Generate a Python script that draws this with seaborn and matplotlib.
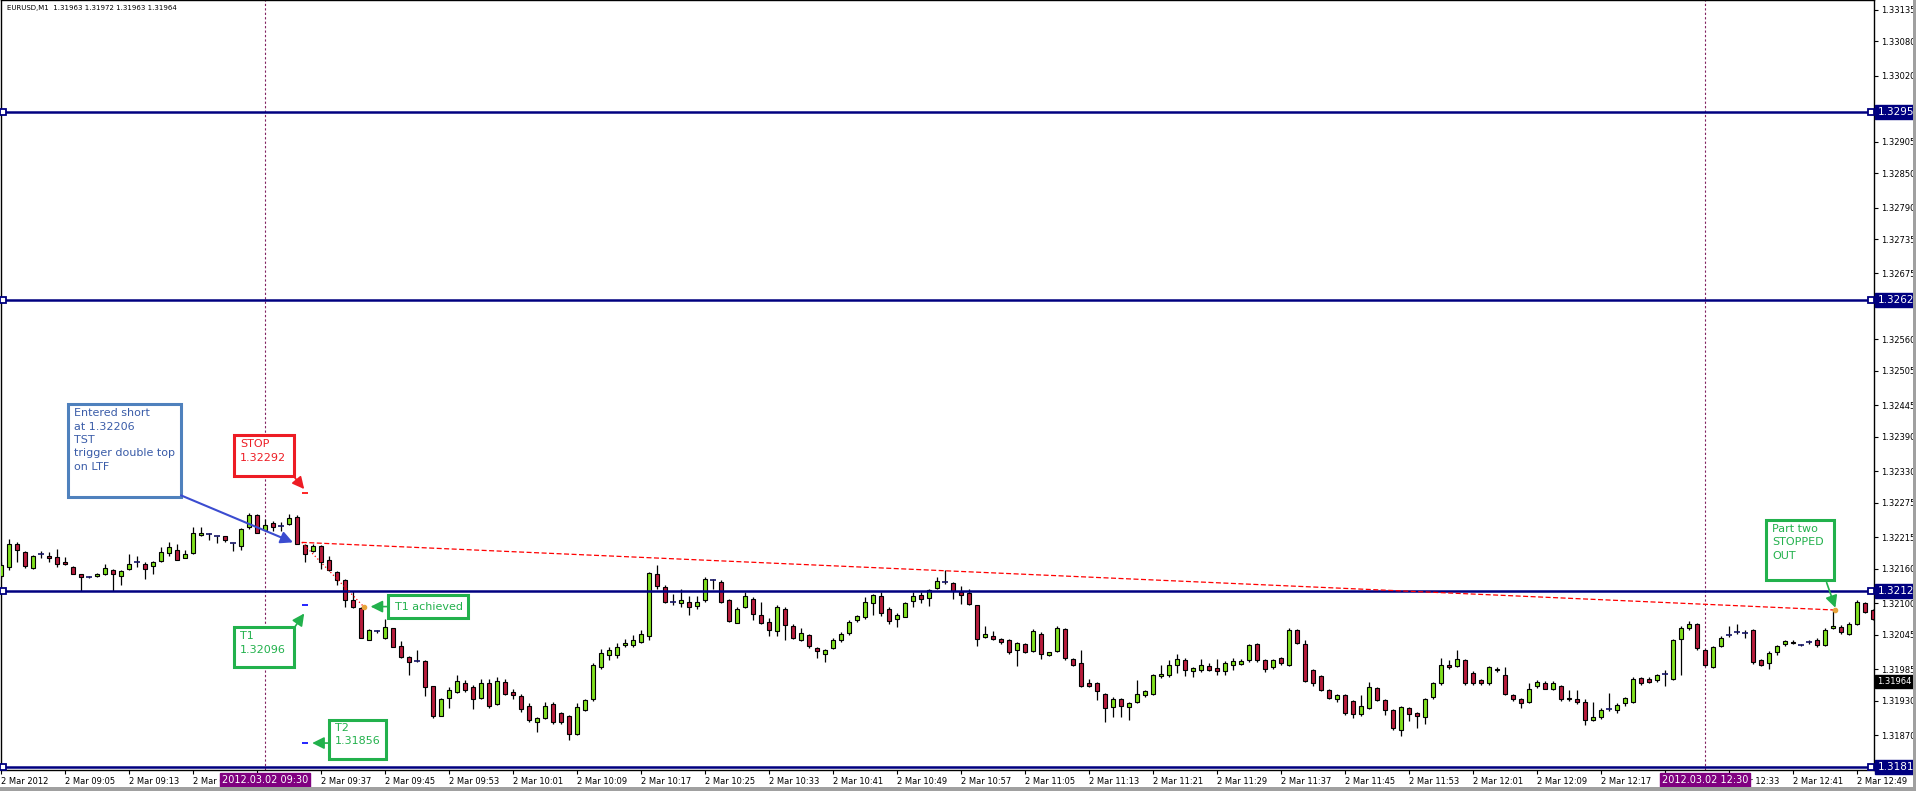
import numpy as np
import pandas as pd
import seaborn as sns
import matplotlib
matplotlib.use("Agg")
import matplotlib.pyplot as plt
import matplotlib.transforms as mtransforms
from matplotlib.patches import Rectangle

# EURUSD M1 candles, 2 Mar 2012 from 08:57, one per minute
opens = [
    1.32148, 1.32163, 1.32204, 1.32189, 1.32162, 1.32185, 1.32182, 1.32181, 1.32172, 1.32163,
    1.32150, 1.32146, 1.32147, 1.32150, 1.32158, 1.32147, 1.32160, 1.32172, 1.32169, 1.32164,
    1.32173, 1.32188, 1.32193, 1.32179, 1.32188, 1.32219, 1.32221, 1.32217, 1.32217, 1.32205,
    1.32200, 1.32232, 1.32253, 1.32228, 1.32240, 1.32235, 1.32238, 1.32251, 1.32201, 1.32191,
    1.32200, 1.32176, 1.32154, 1.32141, 1.32106, 1.32091, 1.32036, 1.32051, 1.32040, 1.32056,
    1.32025, 1.32006, 1.31999, 1.31999, 1.31955, 1.31904, 1.31935, 1.31945, 1.31961, 1.31954,
    1.31935, 1.31960, 1.31924, 1.31963, 1.31945, 1.31938, 1.31920, 1.31893, 1.31900, 1.31924,
    1.31908, 1.31903, 1.31872, 1.31914, 1.31932, 1.31989, 1.32009, 1.32009, 1.32027, 1.32027,
    1.32032, 1.32042, 1.32151, 1.32129, 1.32102, 1.32100, 1.32102, 1.32095, 1.32106, 1.32140,
    1.32137, 1.32106, 1.32066, 1.32093, 1.32108, 1.32080, 1.32068, 1.32051, 1.32090, 1.32060,
    1.32036, 1.32044, 1.32022, 1.32012, 1.32021, 1.32036, 1.32048, 1.32071, 1.32076, 1.32100,
    1.32112, 1.32090, 1.32073, 1.32076, 1.32103, 1.32115, 1.32109, 1.32127, 1.32137, 1.32135,
    1.32120, 1.32117, 1.32096, 1.32041, 1.32042, 1.32037, 1.32035, 1.32018, 1.32028, 1.32017,
    1.32047, 1.32009, 1.32016, 1.32055, 1.32003, 1.31996, 1.31960, 1.31960, 1.31942, 1.31919,
    1.31932, 1.31919, 1.31928, 1.31939, 1.31942, 1.31973, 1.31974, 1.31992, 1.32000, 1.31981,
    1.31984, 1.31990, 1.31987, 1.31981, 1.31993, 1.31994, 1.32000, 1.32028, 1.32000, 1.31988,
    1.32004, 1.31993, 1.32053, 1.32029, 1.31984, 1.31973, 1.31948, 1.31932, 1.31939, 1.31929,
    1.31906, 1.31918, 1.31952, 1.31931, 1.31913, 1.31879, 1.31917, 1.31908, 1.31901, 1.31936,
    1.31960, 1.31992, 1.31991, 1.32000, 1.31979, 1.31966, 1.31960, 1.31986, 1.31975, 1.31939,
    1.31932, 1.31928, 1.31955, 1.31960, 1.31951, 1.31955, 1.31934, 1.31932, 1.31928, 1.31897,
    1.31901, 1.31916, 1.31913, 1.31925, 1.31928, 1.31970, 1.31968, 1.31966, 1.31976, 1.31968,
    1.32037, 1.32056, 1.32064, 1.32018, 1.31989, 1.32026, 1.32044, 1.32049, 1.32048, 1.32053,
    1.32000, 1.31995, 1.32015, 1.32028, 1.32033, 1.32027, 1.32032, 1.32035, 1.32027, 1.32056,
    1.32059, 1.32047, 1.32064, 1.32100, 1.32088,
]
highs = [
    1.32172, 1.32212, 1.32207, 1.32191, 1.32184, 1.32191, 1.32189, 1.32195, 1.32181, 1.32165,
    1.32151, 1.32148, 1.32152, 1.32169, 1.32160, 1.32157, 1.32185, 1.32183, 1.32171, 1.32174,
    1.32198, 1.32207, 1.32203, 1.32193, 1.32233, 1.32232, 1.32223, 1.32217, 1.32218, 1.32205,
    1.32231, 1.32257, 1.32255, 1.32247, 1.32244, 1.32242, 1.32255, 1.32253, 1.32203, 1.32203,
    1.32202, 1.32183, 1.32156, 1.32143, 1.32122, 1.32093, 1.32055, 1.32054, 1.32073, 1.32057,
    1.32034, 1.32007, 1.32018, 1.32000, 1.31956, 1.31934, 1.31954, 1.31974, 1.31966, 1.31957,
    1.31968, 1.31967, 1.31971, 1.31968, 1.31951, 1.31942, 1.31925, 1.31901, 1.31927, 1.31928,
    1.31910, 1.31905, 1.31925, 1.31933, 1.31995, 1.32020, 1.32024, 1.32030, 1.32038, 1.32044,
    1.32054, 1.32154, 1.32167, 1.32131, 1.32116, 1.32125, 1.32112, 1.32112, 1.32145, 1.32142,
    1.32140, 1.32108, 1.32094, 1.32119, 1.32110, 1.32102, 1.32074, 1.32096, 1.32094, 1.32063,
    1.32057, 1.32046, 1.32024, 1.32020, 1.32040, 1.32050, 1.32070, 1.32080, 1.32110, 1.32116,
    1.32119, 1.32094, 1.32082, 1.32102, 1.32119, 1.32119, 1.32125, 1.32145, 1.32157, 1.32137,
    1.32130, 1.32125, 1.32097, 1.32061, 1.32051, 1.32040, 1.32038, 1.32033, 1.32030, 1.32055,
    1.32049, 1.32015, 1.32060, 1.32057, 1.32004, 1.32019, 1.31968, 1.31962, 1.31944, 1.31937,
    1.31934, 1.31927, 1.31966, 1.31949, 1.31976, 1.31993, 1.32001, 1.32011, 1.32004, 1.31989,
    1.32003, 1.31996, 1.32003, 1.31999, 1.32004, 1.32002, 1.32029, 1.32030, 1.32002, 1.32003,
    1.32006, 1.32056, 1.32055, 1.32035, 1.31986, 1.31975, 1.31950, 1.31942, 1.31941, 1.31931,
    1.31940, 1.31962, 1.31954, 1.31933, 1.31915, 1.31921, 1.31919, 1.31910, 1.31935, 1.31963,
    1.32005, 1.32000, 1.32019, 1.32002, 1.31981, 1.31968, 1.31990, 1.31988, 1.31988, 1.31942,
    1.31935, 1.31960, 1.31966, 1.31965, 1.31964, 1.31958, 1.31948, 1.31948, 1.31933, 1.31928,
    1.31918, 1.31943, 1.31925, 1.31937, 1.31972, 1.31972, 1.31972, 1.31977, 1.31983, 1.32037,
    1.32060, 1.32069, 1.32066, 1.32020, 1.32025, 1.32043, 1.32061, 1.32064, 1.32054, 1.32055,
    1.32002, 1.32016, 1.32027, 1.32036, 1.32035, 1.32028, 1.32036, 1.32040, 1.32056, 1.32088,
    1.32062, 1.32067, 1.32105, 1.32102, 1.32090,
]
lows = [
    1.32144, 1.32157, 1.32172, 1.32162, 1.32160, 1.32179, 1.32172, 1.32163, 1.32167, 1.32150,
    1.32122, 1.32144, 1.32146, 1.32149, 1.32122, 1.32131, 1.32158, 1.32163, 1.32142, 1.32151,
    1.32171, 1.32183, 1.32175, 1.32178, 1.32186, 1.32218, 1.32210, 1.32205, 1.32207, 1.32191,
    1.32192, 1.32230, 1.32222, 1.32226, 1.32226, 1.32226, 1.32236, 1.32203, 1.32172, 1.32189,
    1.32160, 1.32156, 1.32131, 1.32093, 1.32092, 1.32039, 1.32035, 1.32048, 1.32038, 1.32023,
    1.32005, 1.31975, 1.31998, 1.31938, 1.31900, 1.31903, 1.31917, 1.31943, 1.31945, 1.31916,
    1.31933, 1.31917, 1.31922, 1.31940, 1.31933, 1.31910, 1.31893, 1.31875, 1.31898, 1.31890,
    1.31890, 1.31861, 1.31870, 1.31912, 1.31930, 1.31985, 1.32000, 1.32004, 1.32023, 1.32023,
    1.32030, 1.32036, 1.32125, 1.32100, 1.32097, 1.32093, 1.32080, 1.32090, 1.32102, 1.32125,
    1.32100, 1.32068, 1.32065, 1.32091, 1.32070, 1.32064, 1.32042, 1.32042, 1.32036, 1.32037,
    1.32034, 1.32022, 1.32005, 1.31997, 1.32020, 1.32033, 1.32045, 1.32068, 1.32073, 1.32080,
    1.32078, 1.32064, 1.32058, 1.32075, 1.32093, 1.32100, 1.32095, 1.32125, 1.32133, 1.32108,
    1.32098, 1.32097, 1.32025, 1.32040, 1.32035, 1.32028, 1.32012, 1.31990, 1.32013, 1.32015,
    1.32002, 1.32008, 1.32014, 1.32000, 1.31990, 1.31954, 1.31953, 1.31931, 1.31893, 1.31901,
    1.31901, 1.31897, 1.31926, 1.31937, 1.31940, 1.31970, 1.31972, 1.31978, 1.31973, 1.31972,
    1.31980, 1.31982, 1.31975, 1.31975, 1.31983, 1.31992, 1.31998, 1.31998, 1.31980, 1.31985,
    1.31993, 1.31991, 1.32029, 1.31963, 1.31955, 1.31947, 1.31932, 1.31928, 1.31905, 1.31899,
    1.31904, 1.31916, 1.31929, 1.31905, 1.31878, 1.31868, 1.31895, 1.31883, 1.31890, 1.31933,
    1.31957, 1.31985, 1.31988, 1.31958, 1.31958, 1.31958, 1.31958, 1.31980, 1.31940, 1.31930,
    1.31918, 1.31925, 1.31952, 1.31950, 1.31948, 1.31930, 1.31930, 1.31924, 1.31888, 1.31895,
    1.31898, 1.31912, 1.31908, 1.31920, 1.31925, 1.31958, 1.31960, 1.31963, 1.31955, 1.31966,
    1.31975, 1.32054, 1.32019, 1.31990, 1.31987, 1.32024, 1.32041, 1.32047, 1.32040, 1.31994,
    1.31990, 1.31986, 1.32009, 1.32025, 1.32028, 1.32026, 1.32028, 1.32024, 1.32025, 1.32055,
    1.32047, 1.32045, 1.32062, 1.32083, 1.32070,
]
closes = [
    1.32166, 1.32203, 1.32192, 1.32164, 1.32182, 1.32185, 1.32178, 1.32169, 1.32168, 1.32151,
    1.32146, 1.32146, 1.32151, 1.32162, 1.32150, 1.32156, 1.32169, 1.32172, 1.32160, 1.32172,
    1.32189, 1.32198, 1.32176, 1.32185, 1.32222, 1.32223, 1.32221, 1.32217, 1.32210, 1.32205,
    1.32230, 1.32253, 1.32223, 1.32237, 1.32232, 1.32235, 1.32249, 1.32204, 1.32186, 1.32199,
    1.32172, 1.32158, 1.32141, 1.32105, 1.32093, 1.32040, 1.32054, 1.32051, 1.32059, 1.32024,
    1.32006, 1.31998, 1.31999, 1.31953, 1.31903, 1.31932, 1.31948, 1.31964, 1.31948, 1.31932,
    1.31961, 1.31920, 1.31965, 1.31942, 1.31939, 1.31915, 1.31896, 1.31899, 1.31921, 1.31893,
    1.31893, 1.31871, 1.31919, 1.31931, 1.31993, 1.32013, 1.32018, 1.32023, 1.32030, 1.32035,
    1.32046, 1.32153, 1.32130, 1.32102, 1.32102, 1.32106, 1.32094, 1.32102, 1.32143, 1.32140,
    1.32102, 1.32069, 1.32090, 1.32112, 1.32081, 1.32066, 1.32053, 1.32094, 1.32062, 1.32039,
    1.32048, 1.32025, 1.32016, 1.32018, 1.32035, 1.32046, 1.32068, 1.32077, 1.32102, 1.32115,
    1.32083, 1.32069, 1.32079, 1.32101, 1.32113, 1.32108, 1.32123, 1.32138, 1.32137, 1.32121,
    1.32114, 1.32098, 1.32038, 1.32046, 1.32038, 1.32032, 1.32015, 1.32031, 1.32015, 1.32052,
    1.32012, 1.32014, 1.32056, 1.32004, 1.31993, 1.31956, 1.31956, 1.31946, 1.31918, 1.31933,
    1.31920, 1.31925, 1.31942, 1.31946, 1.31974, 1.31976, 1.31993, 1.32002, 1.31983, 1.31987,
    1.31993, 1.31984, 1.31981, 1.31995, 1.31999, 1.31999, 1.32027, 1.32000, 1.31986, 1.32000,
    1.31995, 1.32054, 1.32031, 1.31965, 1.31961, 1.31949, 1.31935, 1.31940, 1.31908, 1.31906,
    1.31921, 1.31953, 1.31931, 1.31914, 1.31883, 1.31919, 1.31906, 1.31903, 1.31933, 1.31961,
    1.31993, 1.31989, 1.32002, 1.31961, 1.31961, 1.31961, 1.31988, 1.31983, 1.31942, 1.31933,
    1.31926, 1.31951, 1.31963, 1.31951, 1.31960, 1.31932, 1.31932, 1.31928, 1.31897, 1.31901,
    1.31913, 1.31916, 1.31923, 1.31934, 1.31968, 1.31961, 1.31963, 1.31974, 1.31976, 1.32035,
    1.32056, 1.32063, 1.32021, 1.31993, 1.32023, 1.32040, 1.32044, 1.32049, 1.32048, 1.31997,
    1.31993, 1.32013, 1.32025, 1.32034, 1.32030, 1.32027, 1.32032, 1.32027, 1.32054, 1.32061,
    1.32050, 1.32064, 1.32102, 1.32085, 1.32073,
]

# horizontal levels drawn on the chart and their price-scale tags
level_values = [1.32957, 1.32629, 1.32121, 1.31814]
level_tags = ["1.3295", "1.3262", "1.3212", "1.3181"]

# vertical period separators (bar index) and their date tags
vline_bars = [33, 213]
vline_tags = ["2012.03.02 09:30", "2012.03.02 12:30"]

# trade: entry, stop, targets, exits
entry_bar, entry_price = 37.6, 1.32206
stop_price = 1.32292
t1_price, t2_price = 1.32096, 1.31856
t1_exit_bar, t1_exit_price = 45.4, 1.32093
t2_exit_bar, t2_exit_price = 229.3, 1.32088

ytick_values = [1.33135, 1.33080, 1.33020, 1.32965, 1.32905, 1.32850, 1.32790, 1.32735,
                1.32675, 1.32620, 1.32560, 1.32505, 1.32445, 1.32390, 1.32330, 1.32275,
                1.32215, 1.32160, 1.32100, 1.32045, 1.31985, 1.31930, 1.31870, 1.31815]
xtick_bars = list(range(0, 233, 8))
xtick_labels = ["2 Mar 2012", "2 Mar 09:05", "2 Mar 09:13", "2 Mar 09:21", "2 Mar 09:29",
                "2 Mar 09:37", "2 Mar 09:45", "2 Mar 09:53", "2 Mar 10:01", "2 Mar 10:09",
                "2 Mar 10:17", "2 Mar 10:25", "2 Mar 10:33", "2 Mar 10:41", "2 Mar 10:49",
                "2 Mar 10:57", "2 Mar 11:05", "2 Mar 11:13", "2 Mar 11:21", "2 Mar 11:29",
                "2 Mar 11:37", "2 Mar 11:45", "2 Mar 11:53", "2 Mar 12:01", "2 Mar 12:09",
                "2 Mar 12:17", "2 Mar 12:25", "2 Mar 12:33", "2 Mar 12:41", "2 Mar 12:49"]
last_price = 1.31964

NAVY = "#000080"
BULL = "#80e01e"
BEAR = "#b81c3c"
GREEN = "#22b14c"
RED = "#ed1c24"

df = pd.DataFrame({"open": opens, "high": highs, "low": lows, "close": closes})
df["bar"] = np.arange(len(df))

sns.set_style("white")
plt.rcParams["font.family"] = ["DejaVu Sans"]

fig = plt.figure(figsize=(19.16, 7.91), dpi=100)
ax = fig.add_axes([1 / 1916, 21 / 791, 1873 / 1916, 770 / 791])

# candles
up = df[df.close > df.open]
dn = df[df.close < df.open]
flat = df[df.close == df.open]
ax.vlines(df.bar, df.low, df.high, color="black", lw=0.9, zorder=2)
ax.bar(up.bar, up.close - up.open, bottom=up.open, width=0.6,
       color=BULL, edgecolor="black", linewidth=0.8, zorder=3)
ax.bar(dn.bar, dn.open - dn.close, bottom=dn.close, width=0.6,
       color=BEAR, edgecolor="black", linewidth=0.8, zorder=3)
ax.hlines(flat.open, flat.bar - 0.35, flat.bar + 0.35, color="#141466", lw=1.2, zorder=3)

ax.set_xlim(0, 234.125)
ax.set_ylim(1.31809, 1.33152)

# horizontal levels
for v in level_values:
    ax.axhline(v, color=NAVY, lw=1.8, zorder=4)
    ax.plot([0.25, 233.7], [v, v], "s", ms=4.5, mfc="white", mec=NAVY, mew=1.3,
            clip_on=False, zorder=5)

for b in vline_bars:
    ax.axvline(b, color="#80205f", lw=0.8, ls=(0, (2, 2)), zorder=1)

# trade lines
sns.lineplot(x=[entry_bar, t2_exit_bar], y=[entry_price, t2_exit_price], ax=ax,
             color="red", lw=0.9, linestyle=(0, (4, 2)), zorder=4)
sns.lineplot(x=[entry_bar, t1_exit_bar], y=[entry_price, t1_exit_price], ax=ax,
             color="red", lw=0.9, linestyle=(0, (1, 2)), zorder=4)
ax.plot([t1_exit_bar, t2_exit_bar], [t1_exit_price, t2_exit_price], "o",
        ms=3, color="#e8a33a", zorder=6)
ax.hlines([stop_price], 37.6, 38.4, color="red", lw=1.2, zorder=5)
ax.hlines([t1_price, t2_price], 37.6, 38.4, color="blue", lw=1.2, zorder=5)

# text boxes
def label_box(x0, y_bot, w, h, text, color, text_color, tx, ty, va="top"):
    ax.add_patch(Rectangle((x0, y_bot), w, h, fc="white", ec=color, lw=2.2, zorder=6))
    ax.text(tx, ty, text, color=text_color, fontsize=8, va=va, ha="left",
            linespacing=1.42, zorder=7)

def arrow(start, tip, color, lw=1.2):
    ax.annotate("", xy=tip, xytext=start, zorder=7,
                arrowprops=dict(arrowstyle="-|>,head_length=0.6,head_width=0.3",
                                color=color, lw=lw, mutation_scale=12,
                                shrinkA=0, shrinkB=0))

label_box(8.375, 1.32285, 14.125, 0.00162,
          "Entered short\nat 1.32206\nTST\ntrigger double top\non LTF",
          "#4f81bd", "#3a5ca8", 9.125, 1.32440)
arrow((22.5, 1.32288), (36.5, entry_price), "#3b4cd0", lw=1.5)

label_box(29.125, 1.32321, 7.5, 0.00072, "STOP\n1.32292", RED, RED, 29.875, 1.32386)
arrow((36.6, 1.32321), (37.9, 1.32299), RED)

label_box(48.375, 1.32074, 10.0, 0.00040, "T1 achieved", GREEN, GREEN,
          49.2, 1.32093, va="center")
arrow((48.3, 1.32094), (46.2, 1.32094), GREEN)

label_box(29.125, 1.31988, 7.5, 0.00070, "T1\n1.32096", GREEN, GREEN, 29.875, 1.32051)
arrow((36.6, 1.32056), (37.9, 1.32082), GREEN)

label_box(41.0, 1.31828, 7.125, 0.00069, "T2\n1.31856", GREEN, GREEN, 41.75, 1.31891)
arrow((41.0, 1.31856), (38.9, 1.31856), GREEN)

label_box(220.625, 1.32140, 8.5, 0.00105, "Part two\nSTOPPED\nOUT", GREEN, GREEN,
          221.4, 1.32238)
arrow((228.2, 1.32136), (229.3, 1.32092), GREEN)

# axes styling (MetaTrader look)
for s in ax.spines.values():
    s.set_color("black")
    s.set_linewidth(1.0)
    s.set_visible(True)
ax.yaxis.tick_right()
ax.set_yticks(ytick_values)
# labels sitting under the level tags are hidden by them in the terminal
hidden = {1.32965, 1.32620, 1.31815}
ax.set_yticklabels(["" if v in hidden else f"{v:.5f}" for v in ytick_values])
ax.set_xticks(xtick_bars)
ax.set_xticklabels(xtick_labels, ha="left")
ax.tick_params(axis="y", right=True, left=False, labelright=True, labelleft=False,
               direction="out", length=3, width=0.8, pad=2, labelsize=6, colors="black")
ax.tick_params(axis="x", bottom=True, direction="out", length=3, width=0.8, pad=2,
               labelsize=6, colors="black")
ax.set_xlabel("")
ax.set_ylabel("")

ax.text(0.003, 0.994, "EURUSD,M1  1.31963 1.31972 1.31963 1.31964",
        transform=ax.transAxes, fontsize=5.0, va="top", ha="left", color="black")

ytrans = mtransforms.blended_transform_factory(ax.transAxes, ax.transData)
for v, tag in zip(level_values, level_tags):
    ax.text(1.0018, v, tag, transform=ytrans, fontsize=7.5, color="white",
            va="center", ha="left", zorder=9,
            bbox=dict(boxstyle="square,pad=0.18", fc=NAVY, ec=NAVY))
ax.text(1.0018, last_price, f"{last_price:.5f}", transform=ytrans, fontsize=6,
        color="white", va="center", ha="left", zorder=9,
        bbox=dict(boxstyle="square,pad=0.25", fc="black", ec="black"))

xtrans = mtransforms.blended_transform_factory(ax.transData, ax.transAxes)
for b, tag in zip(vline_bars, vline_tags):
    ax.text(b, -0.0135, tag, transform=xtrans, fontsize=7, color="white",
            va="center", ha="center", zorder=9,
            bbox=dict(boxstyle="square,pad=0.2", fc="#800080", ec="#800080"))

fig.add_artist(Rectangle((0, 0), 1, 4 / 791, transform=fig.transFigure,
                         fc="#a0a0a0", ec="none"))
fig.add_artist(Rectangle((1913 / 1916, 0), 3 / 1916, 1, transform=fig.transFigure,
                         fc="#a0a0a0", ec="none"))

fig.savefig("out.png", dpi=100, facecolor="white")
